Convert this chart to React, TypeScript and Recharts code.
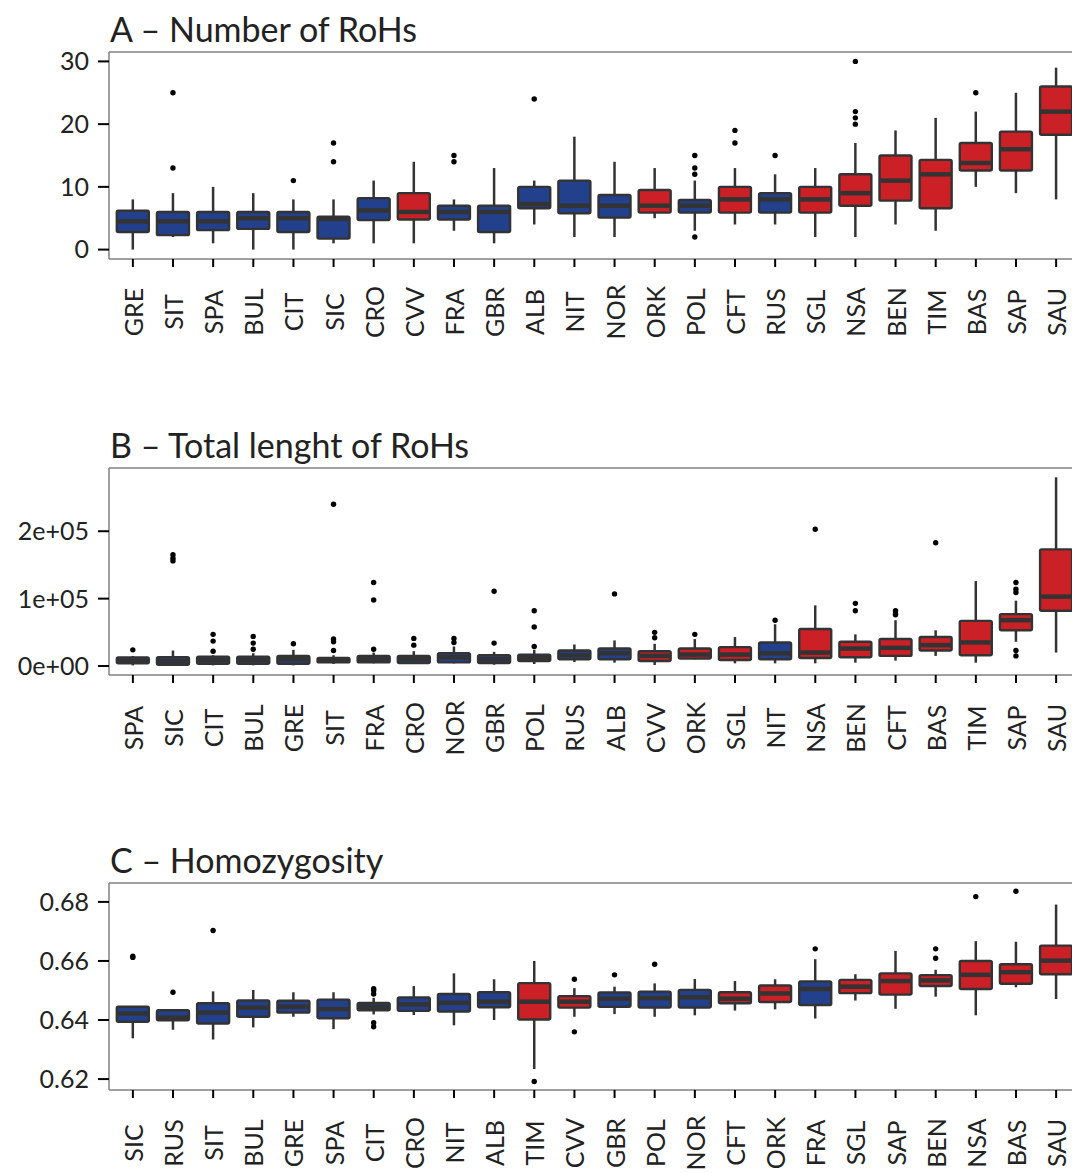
import React from 'react';
import { ComposedChart, Bar, XAxis, YAxis, ReferenceLine } from 'recharts';

// populations drawn in red, the rest in blue
const RED_POPS = ['CVV', 'ORK', 'CFT', 'SGL', 'NSA', 'BEN', 'TIM', 'BAS', 'SAP', 'SAU'];

// A - Number of RoHs
const catsA = ['GRE', 'SIT', 'SPA', 'BUL', 'CIT', 'SIC', 'CRO', 'CVV', 'FRA', 'GBR', 'ALB', 'NIT', 'NOR', 'ORK', 'POL', 'CFT', 'RUS', 'SGL', 'NSA', 'BEN', 'TIM', 'BAS', 'SAP', 'SAU'];
const minA = [0, 2, 1, 0, 0, 1, 1, 1, 3, 1, 4, 2, 2, 5, 3, 4, 4, 2, 2, 4, 3, 10, 9, 8];
const q1A = [2.8, 2.3, 3.1, 3.3, 2.8, 1.75, 4.7, 4.8, 4.8, 2.8, 6.6, 5.8, 5.1, 5.9, 5.9, 5.9, 5.9, 5.9, 7, 7.8, 6.6, 12.6, 12.6, 18.3];
const medA = [4.5, 4.5, 4.5, 5, 5, 4.9, 6.25, 6, 6, 6, 7.25, 7, 7, 7, 7, 8, 8, 8, 9, 11, 12, 13.8, 16, 22];
const q3A = [6.2, 6, 6, 6, 6, 5.25, 8.2, 9, 7, 7, 10, 11, 8.7, 9.5, 7.9, 10, 9, 10, 12, 15, 14.3, 17, 18.8, 26];
const maxA = [8, 9, 10, 9, 8, 8, 11, 14, 8, 13, 11, 18, 14, 13, 11, 13, 12, 13, 17, 19, 21, 22, 25, 29];
const outA = [[], [25, 13], [], [], [11], [17, 14], [], [], [15, 14], [], [24], [], [], [], [15, 13, 12, 2], [19, 17], [15], [], [30, 22, 21, 20], [], [], [25], [], []];
const ticksA = [0, 10, 20, 30];

// B - Total lenght of RoHs
const catsB = ['SPA', 'SIC', 'CIT', 'BUL', 'GRE', 'SIT', 'FRA', 'CRO', 'NOR', 'GBR', 'POL', 'RUS', 'ALB', 'CVV', 'ORK', 'SGL', 'NIT', 'NSA', 'BEN', 'CFT', 'BAS', 'TIM', 'SAP', 'SAU'];
const minB = [1000, 1000, 1000, 1000, 1000, 3000, 4000, 3000, 4000, 2000, 3000, 6000, 5000, 1500, 10000, 4000, 4000, 4000, 5000, 8000, 15000, 5000, 36000, 20000];
const q1B = [4000, 2000, 3500, 3500, 3500, 5400, 5400, 4400, 5400, 4400, 7400, 10000, 10000, 7400, 11000, 9000, 10000, 12000, 13000, 15000, 23000, 16000, 53000, 82000];
const medB = [8000, 7000, 9000, 9000, 10000, 8000, 10000, 10000, 13000, 10000, 12000, 16000, 19000, 15000, 17000, 17000, 19000, 20000, 26000, 27000, 31000, 35000, 68000, 103000];
const q3B = [12800, 13000, 14000, 14000, 15000, 12000, 15000, 15000, 19000, 16000, 17000, 23000, 26000, 22000, 26000, 28000, 35000, 55000, 36000, 40000, 43000, 67000, 77000, 173000];
const maxB = [15000, 23000, 16000, 19000, 24000, 16000, 20000, 22000, 29000, 21000, 24000, 32000, 38000, 33000, 40000, 43000, 62000, 90000, 47000, 68000, 53000, 126000, 97000, 280000];
const outB = [[24000], [165000, 160000, 156000], [47000, 37000, 22000], [44000, 34000, 25000], [33000], [240000, 40000, 36000, 23000], [124000, 98000, 25000], [41000, 31000], [41000, 35000], [111000, 34000], [82000, 58000, 29000], [], [107000], [50000, 42000], [47000], [], [68000], [203000], [93000, 82000], [82000, 78000, 76000], [183000], [], [124000, 114000, 109000, 23000, 15000], []];
const ticksB = [0, 100000, 200000];
const tickLabelsB = ['0e+00', '1e+05', '2e+05'];

// C - Homozygosity
const catsC = ['SIC', 'RUS', 'SIT', 'BUL', 'GRE', 'SPA', 'CIT', 'CRO', 'NIT', 'ALB', 'TIM', 'CVV', 'GBR', 'POL', 'NOR', 'CFT', 'ORK', 'FRA', 'SGL', 'SAP', 'BEN', 'NSA', 'BAS', 'SAU'];
const minC = [0.6338, 0.6367, 0.6334, 0.6375, 0.6411, 0.6369, 0.6419, 0.6417, 0.6382, 0.64, 0.6234, 0.6411, 0.642, 0.6411, 0.6416, 0.6432, 0.6436, 0.6405, 0.6466, 0.6438, 0.6479, 0.6416, 0.6511, 0.6471];
const q1C = [0.6394, 0.6399, 0.6388, 0.6411, 0.6425, 0.6406, 0.6433, 0.6431, 0.6429, 0.6443, 0.6402, 0.6442, 0.6445, 0.6442, 0.6442, 0.6457, 0.6461, 0.6451, 0.6491, 0.6486, 0.6515, 0.6505, 0.6523, 0.6555];
const medC = [0.6422, 0.6408, 0.6425, 0.6442, 0.6445, 0.6437, 0.6445, 0.6453, 0.6458, 0.6462, 0.6462, 0.6462, 0.6472, 0.6474, 0.6477, 0.6472, 0.649, 0.6505, 0.6513, 0.6532, 0.6534, 0.6553, 0.6562, 0.6601];
const q3C = [0.6445, 0.6433, 0.6457, 0.6466, 0.6465, 0.6469, 0.6458, 0.6476, 0.6488, 0.6494, 0.6525, 0.6481, 0.6493, 0.6496, 0.6502, 0.6494, 0.6517, 0.6531, 0.6536, 0.6558, 0.6552, 0.66, 0.6589, 0.6652];
const maxC = [0.6447, 0.6436, 0.6497, 0.6502, 0.6494, 0.6494, 0.6475, 0.6515, 0.6558, 0.6538, 0.66, 0.6508, 0.6513, 0.6524, 0.6539, 0.6532, 0.6538, 0.6606, 0.6555, 0.6634, 0.657, 0.6667, 0.6665, 0.6791];
const outC = [[0.6612, 0.6616], [0.6494], [0.6703], [], [], [], [0.6506, 0.65, 0.6488, 0.6391, 0.6377], [], [], [], [0.6192], [0.6538, 0.636], [0.6553], [0.6589], [], [], [], [0.6641], [], [], [0.6641, 0.6609], [0.6818], [0.6836], []];
const ticksC = [0.62, 0.64, 0.66, 0.68];

const BLUE = '#22408c';
const RED = '#cc2027';
const EDGE = '#333333';
const FONT = 'Lato, "Open Sans", sans-serif';

const buildRows = (cats: string[], mins: number[], q1s: number[], meds: number[], q3s: number[], maxs: number[], outs: number[][]) =>
  cats.map((name, i) => ({
    name,
    min: mins[i],
    q1: q1s[i],
    med: meds[i],
    q3: q3s[i],
    max: maxs[i],
    out: outs[i],
    red: RED_POPS.includes(name),
  }));

// Box drawn on top of a range bar [min, max]; inner values mapped linearly on the bar's pixel extent
const BoxShape = (props: any) => {
  const { x, y, width, height, payload } = props;
  if (!payload) return null;
  const top = Math.min(y, y + height);
  const h = Math.abs(height);
  const { min, q1, med, q3, max, out, red } = payload;
  const py = (v: number) => top + (h * (max - v)) / (max - min);
  const cx = x + width / 2;
  return (
    <g>
      <line x1={cx} x2={cx} y1={py(max)} y2={py(q3)} stroke={EDGE} strokeWidth={2.5} />
      <line x1={cx} x2={cx} y1={py(q1)} y2={py(min)} stroke={EDGE} strokeWidth={2.5} />
      <rect
        x={x}
        y={py(q3)}
        width={width}
        height={py(q1) - py(q3)}
        rx={1.5}
        fill={red ? RED : BLUE}
        stroke={EDGE}
        strokeWidth={2.4}
      />
      <line x1={x + 1} x2={x + width - 1} y1={py(med)} y2={py(med)} stroke={EDGE} strokeWidth={4.5} />
      {out.map((o: number, k: number) => (
        <circle key={k} cx={cx} cy={py(o)} r={2.7} fill="#000" />
      ))}
    </g>
  );
};

const XTick = ({ x, y, payload }: any) => (
  <text
    x={x}
    y={y + 45}
    transform={`rotate(-90, ${x}, ${y + 45})`}
    textAnchor="middle"
    dominantBaseline="central"
    fill="#222"
    fontSize={25}
    fontFamily={FONT}
  >
    {payload.value}
  </text>
);

interface PanelProps {
  rows: any[];
  domain: [number, number];
  ticks: number[];
  fmt: (v: number) => string;
}

const Panel = ({ rows, domain, ticks, fmt }: PanelProps) => (
  <ComposedChart width={1085} height={349} data={rows} margin={{ top: 52, right: 5, bottom: 0, left: 0 }} barCategoryGap="10%">
    <XAxis
      dataKey="name"
      interval={0}
      height={90}
      tickSize={8}
      tickMargin={0}
      padding={{ left: 3.8, right: 3.8 }}
      axisLine={{ stroke: '#808080', strokeWidth: 1.5 }}
      tickLine={{ stroke: '#000', strokeWidth: 2 }}
      tick={<XTick />}
    />
    <YAxis
      type="number"
      domain={domain}
      allowDataOverflow
      ticks={ticks}
      tickFormatter={fmt}
      width={109}
      tickSize={11}
      tickMargin={9}
      axisLine={{ stroke: '#808080', strokeWidth: 1.5 }}
      tickLine={{ stroke: '#000', strokeWidth: 2 }}
      tick={{ fill: '#222', fontSize: 25, fontFamily: FONT }}
    />
    <ReferenceLine y={domain[1]} stroke="#808080" strokeWidth={1.5} />
    <Bar dataKey={(d: any) => [d.min, d.max]} shape={<BoxShape />} isAnimationActive={false} />
  </ComposedChart>
);

const rowsA = buildRows(catsA, minA, q1A, medA, q3A, maxA, outA);
const rowsB = buildRows(catsB, minB, q1B, medB, q3B, maxB, outB);
const rowsC = buildRows(catsC, minC, q1C, medC, q3C, maxC, outC);

const titles = ['A – Number of RoHs', 'B – Total lenght of RoHs', 'C – Homozygosity'];
const panelTops = [0, 415.7, 831.3];

export default function App() {
  return (
    <div style={{ position: 'absolute', left: 0, top: 0, width: 1072, height: 1173, overflow: 'hidden', background: '#fff' }}>
      <div style={{ position: 'absolute', left: 0, top: panelTops[0] }}>
        <Panel rows={rowsA} domain={[-1.5, 31.5]} ticks={ticksA} fmt={(v) => String(v)} />
      </div>
      <div style={{ position: 'absolute', left: 0, top: panelTops[1] }}>
        <Panel rows={rowsB} domain={[-13300, 293800]} ticks={ticksB} fmt={(v) => tickLabelsB[ticksB.indexOf(v)] ?? String(v)} />
      </div>
      <div style={{ position: 'absolute', left: 0, top: panelTops[2] }}>
        <Panel rows={rowsC} domain={[0.6163, 0.6864]} ticks={ticksC} fmt={(v) => v.toFixed(2)} />
      </div>
      <svg width={1072} height={1173} style={{ position: 'absolute', left: 0, top: 0, pointerEvents: 'none' }}>
        {titles.map((t, i) => (
          <text key={t} x={110} y={panelTops[i] + 42} fontSize={34} fontFamily={FONT} fill="#222">
            {t}
          </text>
        ))}
      </svg>
    </div>
  );
}
